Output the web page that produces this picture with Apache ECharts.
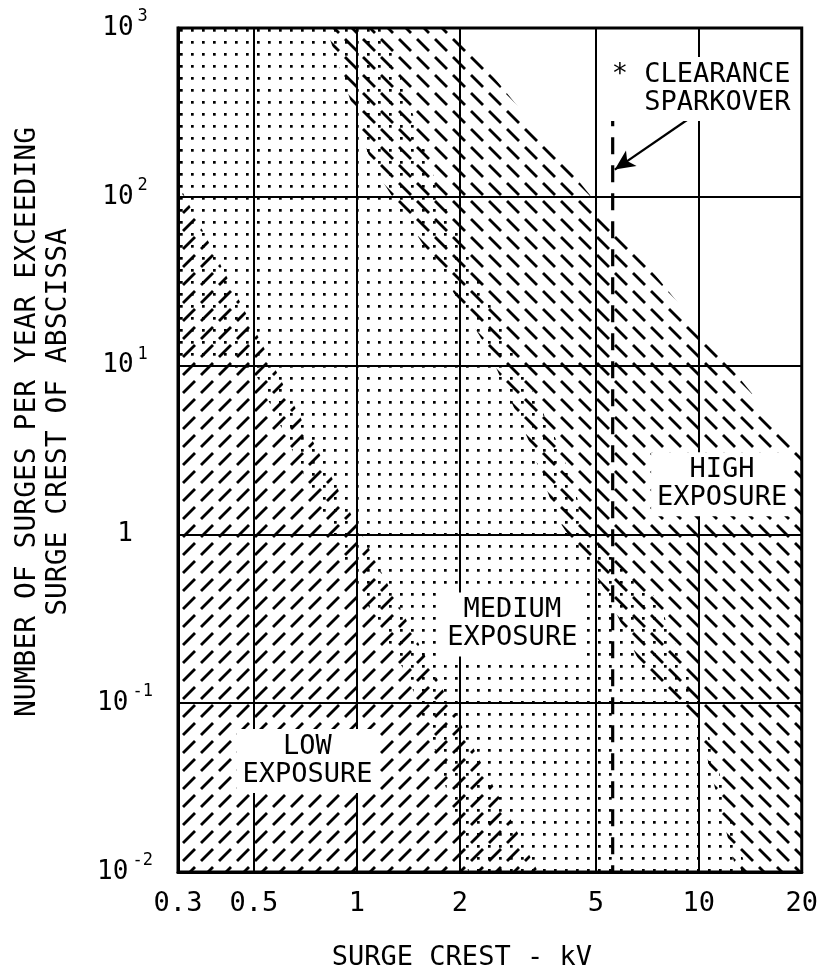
<!DOCTYPE html>
<html>
<head>
<meta charset="utf-8">
<title>Surge exposure</title>
<script src="https://cdn.jsdelivr.net/npm/echarts@6/dist/echarts.min.js"></script>
<style>
  html, body { margin: 0; padding: 0; background: #fff; }
  #chart { width: 821px; height: 976px; }
</style>
</head>
<body>
<div id="chart"></div>
<script>
// axis ticks
var kvTicks = [0.5, 1, 2, 5, 10];
var kvLabels = [0.3, 0.5, 1, 2, 5, 10, 20];
var rateTicks = [0.01, 0.1, 1, 10, 100, 1000];

// low exposure band ( / hatch )
var lowKv = [0.3, 3.39, 0.3];
var lowRate = [120, 0.01, 0.01];

// medium exposure band ( dots )
var mediumKv = [0.3, 1.2, 1.73, 2.42, 3.95, 4.74, 7.57, 10.2, 13.8, 2.12, 1.73, 1.42, 1.015, 0.792, 0.502, 0.3];
var mediumRate = [1000, 1000, 110, 24.6, 3.18, 1.07, 0.412, 0.092, 0.01, 0.01, 0.0467, 0.139, 0.473, 1.35, 9.22, 10.85];

// high exposure band ( \ hatch )
var highKv = [0.814, 1.92, 20, 20, 12.9, 9.9, 7.08, 5.31, 3.87, 3.17, 2.42, 1.82, 1.107];
var highRate = [1000, 1000, 2.97, 0.01, 0.01, 0.08, 0.139, 0.473, 1.23, 3.65, 12.4, 32.3, 155];

// clearance sparkover
var sparkKv = [5.6, 5.6];
var sparkRate = [330, 0.01];
var arrowKv = [9.26, 5.68];
var arrowRate = [286, 145];

// region labels
var labelText = ['LOW\nEXPOSURE', 'MEDIUM\nEXPOSURE', 'HIGH\nEXPOSURE', '* CLEARANCE\n  SPARKOVER'];
var labelKv = [0.717, 2.85, 11.7, 10.16];
var labelRate = [0.0454, 0.293, 1.98, 435];

var mono = '"DejaVu Sans Mono", "Liberation Mono", monospace';

// fill tiles
function makeTile(kind) {
  var c = document.createElement('canvas');
  var ctx = c.getContext('2d');
  if (kind === 'dots') {
    c.width = 11; c.height = 12;
    ctx.fillStyle = '#000';
    ctx.fillRect(4, 5, 2.7, 2.7);
    return c;
  }
  var t = 18;
  c.width = t; c.height = t;
  ctx.strokeStyle = '#000';
  ctx.lineWidth = 2.8;
  ctx.beginPath();
  if (kind === 'slash') {
    ctx.moveTo(3, 15); ctx.lineTo(15, 3);
  } else {
    ctx.moveTo(3, 3); ctx.lineTo(15, 15);
  }
  ctx.stroke();
  return c;
}

var bands = [
  { kv: mediumKv, rate: mediumRate, tile: makeTile('dots') },
  { kv: lowKv, rate: lowRate, tile: makeTile('slash') },
  { kv: highKv, rate: highRate, tile: makeTile('back') }
];

var chart = echarts.init(document.getElementById('chart'));

var option = {
  animation: false,
  backgroundColor: '#fff',
  grid: { left: 178, right: 16, top: 28, bottom: 103, show: true, borderColor: '#000', borderWidth: 3 },
  xAxis: {
    type: 'log', logBase: 10, min: 0.3, max: 20,
    name: 'SURGE CREST - kV', nameLocation: 'middle', nameGap: 72,
    nameTextStyle: { fontFamily: mono, fontSize: 27, color: '#000', padding: [0, 56, 0, 0] },
    axisLine: { show: true, lineStyle: { color: '#000', width: 3 } },
    axisTick: { show: false, customValues: kvTicks },
    axisLabel: {
      customValues: kvLabels, margin: 18,
      fontFamily: mono, fontSize: 27, color: '#000',
      formatter: function (v) { return String(Math.round(v * 10) / 10); }
    },
    splitLine: { show: true, lineStyle: { color: '#000', width: 2 } }
  },
  yAxis: {
    type: 'log', logBase: 10, min: 0.01, max: 1000,
    name: 'NUMBER OF SURGES PER YEAR EXCEEDING\nSURGE CREST OF ABSCISSA',
    nameLocation: 'middle', nameRotate: 90, nameGap: 104,
    nameTextStyle: { fontFamily: mono, fontSize: 28, lineHeight: 31, color: '#000', align: 'center', padding: [0, 0, 0, 56] },
    axisLine: { show: true, lineStyle: { color: '#000', width: 3 } },
    axisTick: { show: false, customValues: rateTicks },
    axisLabel: {
      customValues: rateTicks, margin: 53, align: 'center',
      formatter: function (v) {
        var e = Math.round(Math.log(v) / Math.LN10);
        return e === 0 ? '{b|1}' : '{b|10}{s|' + e + '}';
      },
      rich: {
        b: { fontFamily: mono, fontSize: 26, color: '#000', lineHeight: 40 },
        s: { fontFamily: mono, fontSize: 17, color: '#000', verticalAlign: 'top', lineHeight: 18, padding: [0, 0, 0, 4] }
      }
    },
    splitLine: { show: true, lineStyle: { color: '#000', width: 2 } }
  },
  series: [
    {
      type: 'custom',
      coordinateSystem: 'cartesian2d',
      silent: true,
      z: 3,
      data: bands.map(function (b) { return [b.kv[0], b.rate[0]]; }),
      renderItem: function (params, api) {
        var b = bands[params.dataIndex];
        var pts = b.kv.map(function (v, i) { return api.coord([v, b.rate[i]]); });
        return {
          type: 'polygon',
          shape: { points: pts },
          style: { fill: { image: b.tile, repeat: 'repeat' }, stroke: null }
        };
      }
    },
    {
      type: 'line',
      z: 4,
      silent: true,
      symbol: 'none',
      data: sparkKv.map(function (v, i) { return [v, sparkRate[i]]; }),
      lineStyle: { color: '#000', width: 3.2, type: [17, 11] },
      markLine: {
        silent: true,
        animation: false,
        symbol: ['none', 'arrow'],
        symbolSize: [14, 20],
        label: { show: false },
        lineStyle: { color: '#000', width: 2.2, type: 'solid' },
        data: [[
          { coord: [arrowKv[0], arrowRate[0]] },
          { coord: [arrowKv[1], arrowRate[1]] }
        ]]
      }
    },
    {
      // region labels on white, clearing the hatch and grid under them
      type: 'custom',
      coordinateSystem: 'cartesian2d',
      silent: true,
      z: 6,
      data: labelKv.map(function (v, i) { return [v, labelRate[i]]; }),
      renderItem: function (params, api) {
        var p = api.coord([api.value(0), api.value(1)]);
        return {
          type: 'text',
          x: p[0],
          y: p[1],
          style: {
            text: labelText[params.dataIndex],
            fontFamily: mono, fontSize: 27, lineHeight: 28,
            fill: '#000', align: 'center', verticalAlign: 'middle',
            backgroundColor: '#fff', padding: [4, 6]
          }
        };
      }
    }
  ]
};

chart.setOption(option);
</script>
</body>
</html>
